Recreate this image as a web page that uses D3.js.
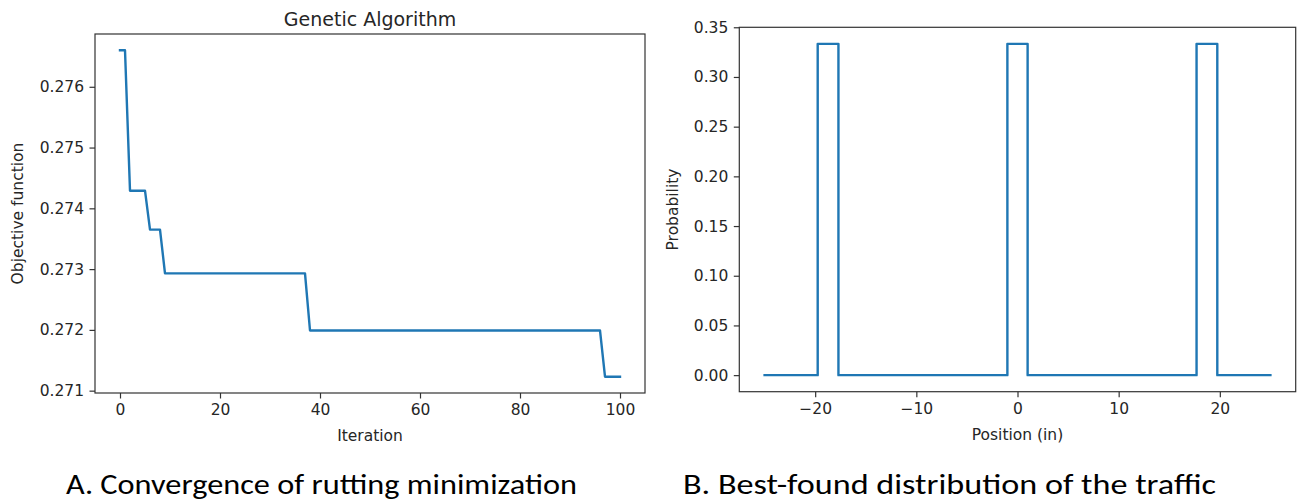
<!DOCTYPE html>
<html><head><meta charset="utf-8">
<script src="https://cdn.jsdelivr.net/npm/d3@7"></script>
<style>body{margin:0;background:#fff} svg{display:block}</style>
</head><body><svg id="c" width="1299" height="503"></svg>
<script>
// ---- data ----
const gaIteration = [0, 1, 2, 5, 6, 8, 9, 37, 38, 96, 97, 100];
const gaObjective = [0.27660, 0.27660, 0.27429, 0.27429, 0.27365, 0.27365, 0.27293, 0.27293, 0.27199, 0.27199, 0.27123, 0.27123];
const gaXTicks = [0, 20, 40, 60, 80, 100];
const gaYTicks = [0.271, 0.272, 0.273, 0.274, 0.275, 0.276];

const position = [-25, -19.75, -19.75, -17.7, -17.7, -1, -1, 1, 1, 17.7, 17.7, 19.75, 19.75, 25];
const probability = [0, 0, 0.3333, 0.3333, 0, 0, 0.3333, 0.3333, 0, 0, 0.3333, 0.3333, 0, 0];
const posXTicks = [-20, -10, 0, 10, 20];
const probYTicks = [0, 0.05, 0.10, 0.15, 0.20, 0.25, 0.30, 0.35];

const titleA = "Genetic Algorithm";
const xLabelA = "Iteration", yLabelA = "Objective function";
const xLabelB = "Position (in)", yLabelB = "Probability";
const captionA = "A. Convergence of rutting minimization";
const captionB = "B. Best-found distribution of the traffic";

// ---- drawing ----
const svg = d3.select("#c");
svg.append("rect").attr("width", 1299).attr("height", 503).attr("fill", "#fff");
const FONT = "DejaVu Sans, sans-serif";
const TXT = "#262626";

function padDomain(vals) {
  const [lo, hi] = d3.extent(vals);
  const m = (hi - lo) * 0.05;
  return [lo - m, hi + m];
}

function panel(o) {
  const x = d3.scaleLinear().domain(padDomain(o.xs)).range([o.left, o.right]);
  const y = d3.scaleLinear().domain(padDomain(o.ys)).range([o.bottom, o.top]);
  const g = svg.append("g");

  const xa = g.append("g").attr("transform", `translate(0,${o.bottom})`)
    .call(d3.axisBottom(x).tickValues(o.xTicks).tickSize(5.5).tickPadding(5.5).tickFormat(o.xFmt));
  const ya = g.append("g").attr("transform", `translate(${o.left},0)`)
    .call(d3.axisLeft(y).tickValues(o.yTicks).tickSize(5.5).tickPadding(5.5).tickFormat(o.yFmt));
  [xa, ya].forEach(a => {
    a.select(".domain").remove();
    a.selectAll("line").attr("stroke", "#333").attr("stroke-width", 1.2);
    a.selectAll("text").attr("font-family", FONT).attr("font-size", 15.5).attr("fill", TXT);
  });

  const line = d3.line().x(d => x(d[0])).y(d => y(d[1]));
  g.append("path").datum(o.xs.map((v, i) => [v, o.ys[i]]))
    .attr("d", line).attr("fill", "none").attr("stroke", "#1f77b4")
    .attr("stroke-width", 2.4).attr("stroke-linejoin", "round").attr("stroke-linecap", "square");

  g.append("rect").attr("x", o.left).attr("y", o.top)
    .attr("width", o.right - o.left).attr("height", o.bottom - o.top)
    .attr("fill", "none").attr("stroke", "#333").attr("stroke-width", 1.2);

  const cx = (o.left + o.right) / 2, cy = (o.top + o.bottom) / 2;
  g.append("text").attr("x", cx).attr("y", o.xLabelY).attr("text-anchor", "middle")
    .attr("font-family", FONT).attr("font-size", 15.5).attr("fill", TXT).text(o.xLabel);
  g.append("text").attr("transform", `translate(${o.yLabelX},${cy}) rotate(-90)`)
    .attr("text-anchor", "middle").attr("font-family", FONT).attr("font-size", 15.5)
    .attr("fill", TXT).text(o.yLabel);
  if (o.title) {
    g.append("text").attr("x", cx).attr("y", 26).attr("text-anchor", "middle")
      .attr("font-family", FONT).attr("font-size", 19).attr("fill", TXT).text(o.title);
  }
}

panel({
  xs: gaIteration, ys: gaObjective, left: 95, right: 645, top: 34, bottom: 393,
  xTicks: gaXTicks, yTicks: gaYTicks, xFmt: d3.format("d"), yFmt: d3.format(".3f"),
  xLabel: xLabelA, yLabel: yLabelA, xLabelY: 441, yLabelX: 23, title: titleA
});
panel({
  xs: position, ys: probability, left: 739.3, right: 1295.7, top: 27.3, bottom: 391.7,
  xTicks: posXTicks, yTicks: probYTicks, xFmt: d3.format("d"), yFmt: d3.format(".2f"),
  xLabel: xLabelB, yLabel: yLabelB, xLabelY: 440, yLabelX: 678
});

const CAPFONT = "Carlito, Lato, 'Open Sans', sans-serif";
svg.append("text").attr("x", 66).attr("y", 494).attr("font-family", CAPFONT)
  .attr("font-size", 28).attr("fill", "#000").attr("textLength", 511).attr("lengthAdjust", "spacingAndGlyphs")
  .text(captionA);
svg.append("text").attr("x", 683).attr("y", 494).attr("font-family", CAPFONT)
  .attr("font-size", 28).attr("fill", "#000").attr("textLength", 533).attr("lengthAdjust", "spacingAndGlyphs")
  .text(captionB);
</script></body></html>
